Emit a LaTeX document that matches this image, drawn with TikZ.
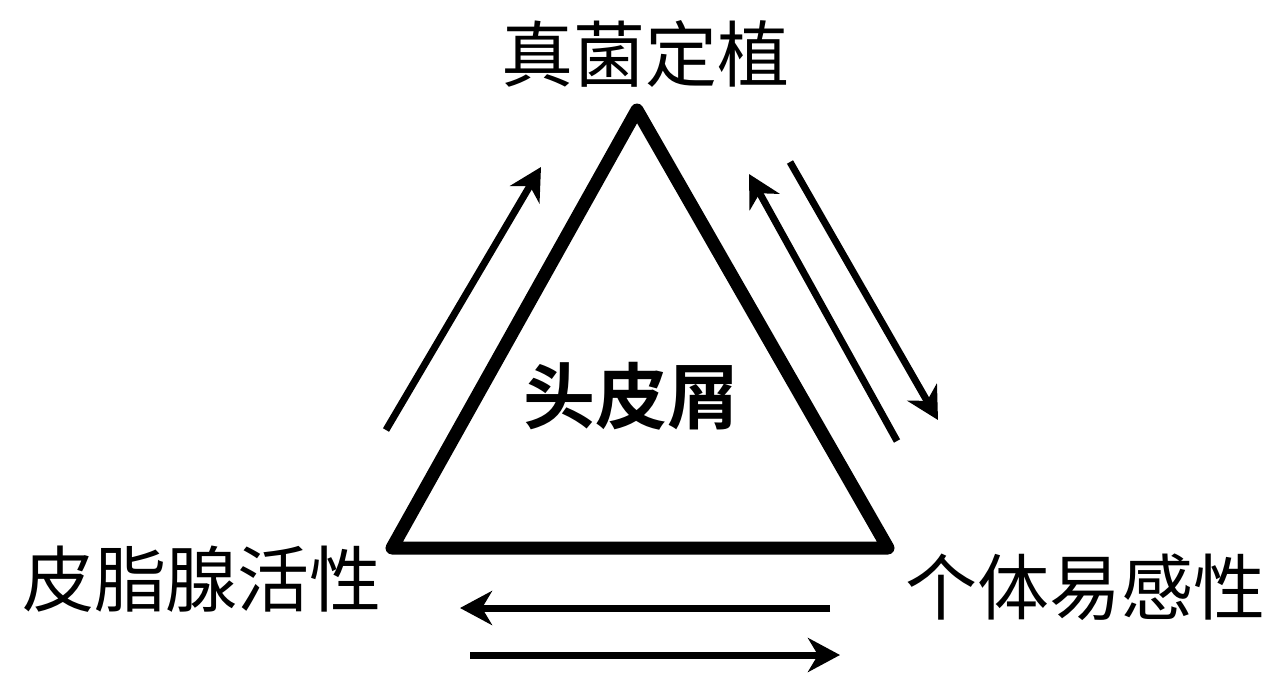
\documentclass[tikz,border=0pt]{standalone}
\usepackage{fontspec}
\newfontfamily\cjk[BoldFont=Noto Sans CJK SC Bold]{Noto Sans CJK SC}
\usetikzlibrary{arrows.meta}
\tikzset{
  label/.style={
    font=\cjk\fontsize{72}{80}\selectfont,
    inner sep=0pt
    },
  centre/.style={
    font=\cjk\bfseries\fontsize{72}{80}\selectfont,
    inner sep=0pt
    },
  side/.style={
    line width=13pt,
    line join=round
    },
  arrow/.style={line width=7pt,-{Stealth[length=32pt,width=34pt,inset=10pt]}},
}

\begin{document}
\begin{tikzpicture}[
            x = 1pt, y = -1pt, % pixel units
            semithick
        ]
         \useasboundingbox (0,0) rectangle (1280,680);

         % corners of the triangle
         \coordinate (top) at (637,110);
         \coordinate (lft) at (392,548);
         \coordinate (rgt) at (888,548);
         \draw[side] (top) -- (rgt) -- (lft) -- cycle;

         \node[label]  (fungus) at (645,54)  {真菌定植};
         \node[centre] (dandruff) at (631,396) {头皮屑};
         \node[label]  (sebum) at (202,579) {皮脂腺活性};
         \node[label]  (suscept) at (1085,587) {个体易感性};

         % arrow ends
         \coordinate (l1) at (386,430);
         \coordinate (l2) at (541,167);
         \coordinate (r1) at (897,441);
         \coordinate (r2) at (749,174);
         \coordinate (r3) at (790,162);
         \coordinate (r4) at (938,420);
         \coordinate (b1) at (830,608);
         \coordinate (b2) at (460,608);
         \coordinate (b3) at (470,655);
         \coordinate (b4) at (840,655);

         \draw[arrow] (l1) -- (l2);
         \draw[arrow] (r1) -- (r2);
         \draw[arrow] (r3) -- (r4);
         \draw[arrow] (b1) -- (b2);
         \draw[arrow] (b3) -- (b4);
\end{tikzpicture}
\end{document}
